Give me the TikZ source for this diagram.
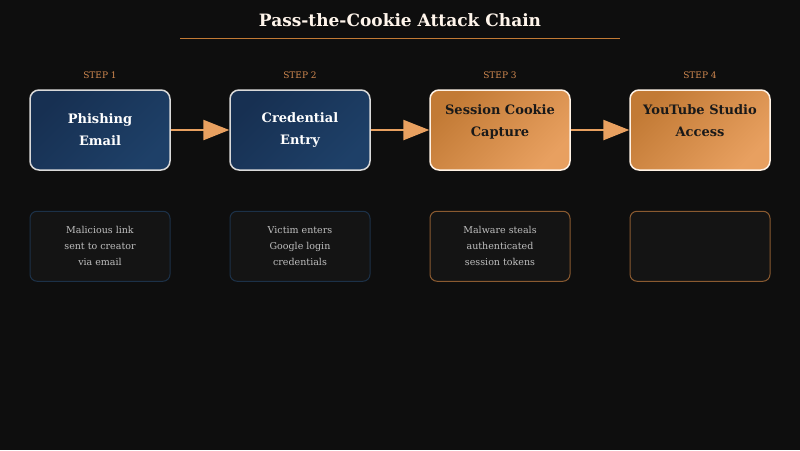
\documentclass[tikz,border=0pt]{standalone}
\usepackage{fontspec}
\setmainfont{DejaVu Serif}
\usetikzlibrary{positioning,arrows.meta}
\definecolor{pagebg}{HTML}{0E0E0E}
\definecolor{cookieorange}{HTML}{E8A060}
\definecolor{cookiedark}{HTML}{C27A35}
\definecolor{navyhi}{HTML}{1E4068}
\definecolor{navylo}{HTML}{173052}
\definecolor{steptext}{HTML}{D08850}
\definecolor{descline}{HTML}{1C3148}
\definecolor{rustline}{HTML}{8A5A30}

\tikzset{
  mainbox/.style={rounded corners=9pt, line width=1.5pt, minimum width=140pt, minimum height=80pt, align=center, font=\bfseries\fontsize{13}{22}\selectfont},
  bluebox/.style={mainbox, draw=black!15, left color=navylo, right color=navyhi, shading angle=45, text=white},
  orangebox/.style={mainbox, draw=white!90!orange, left color=cookiedark, right color=cookieorange, shading angle=45, text=black!90},
  descbox/.style={rounded corners=7pt, line width=1pt, fill=black!92, minimum width=140pt, minimum height=70pt, align=center, text=black!25, font=\fontsize{9.5}{16}\selectfont},
  steplabel/.style={text=steptext, font=\fontsize{9}{10}\selectfont},
  flow/.style={cookieorange, line width=2.5pt, -{Triangle[length=26pt,width=20pt]}}
}

\begin{document}
\begin{tikzpicture}[x=1pt,y=-1pt]
            % Background
            \fill[pagebg] (0,0) rectangle (800,450);
            \node[text=white!92!orange, font=\bfseries\fontsize{17}{20}\selectfont] (title) at (400,20) {Pass-the-Cookie Attack Chain};
            \draw[cookiedark, line width=1pt] (180,38) -- (620,38);

            % Step boxes
            \node[bluebox] (phish) at (100,130) {Phishing\\Email};
            \node[bluebox] (cred) at (300,130) {Credential\\Entry};
            \node[orangebox] (cookie) at (500,130) {Session Cookie\\Capture\\[-4pt]};
            \node[orangebox] (studio) at (700,130) {YouTube Studio\\Access\\[-4pt]};

            % Step labels
            \node[steplabel, above=7pt of phish] {STEP 1};
            \node[steplabel, above=7pt of cred] {STEP 2};
            \node[steplabel, above=7pt of cookie] {STEP 3};
            \node[steplabel, above=7pt of studio] {STEP 4};

            % Descriptions
            \node[descbox, draw=descline, below=40pt of phish] (phishnote) {Malicious link\\sent to creator\\via email};
            \node[descbox, draw=descline, below=40pt of cred] (crednote) {Victim enters\\Google login\\credentials};
            \node[descbox, draw=rustline, below=40pt of cookie] (cookienote) {Malware steals\\authenticated\\session tokens};
            \node[descbox, draw=rustline, below=40pt of studio] (studionote) {};

            % Connections
            \draw[flow] (phish) -- (cred);
            \draw[flow] (cred) -- (cookie);
            \draw[flow] (cookie) -- (studio);
        \end{tikzpicture}
\end{document}
